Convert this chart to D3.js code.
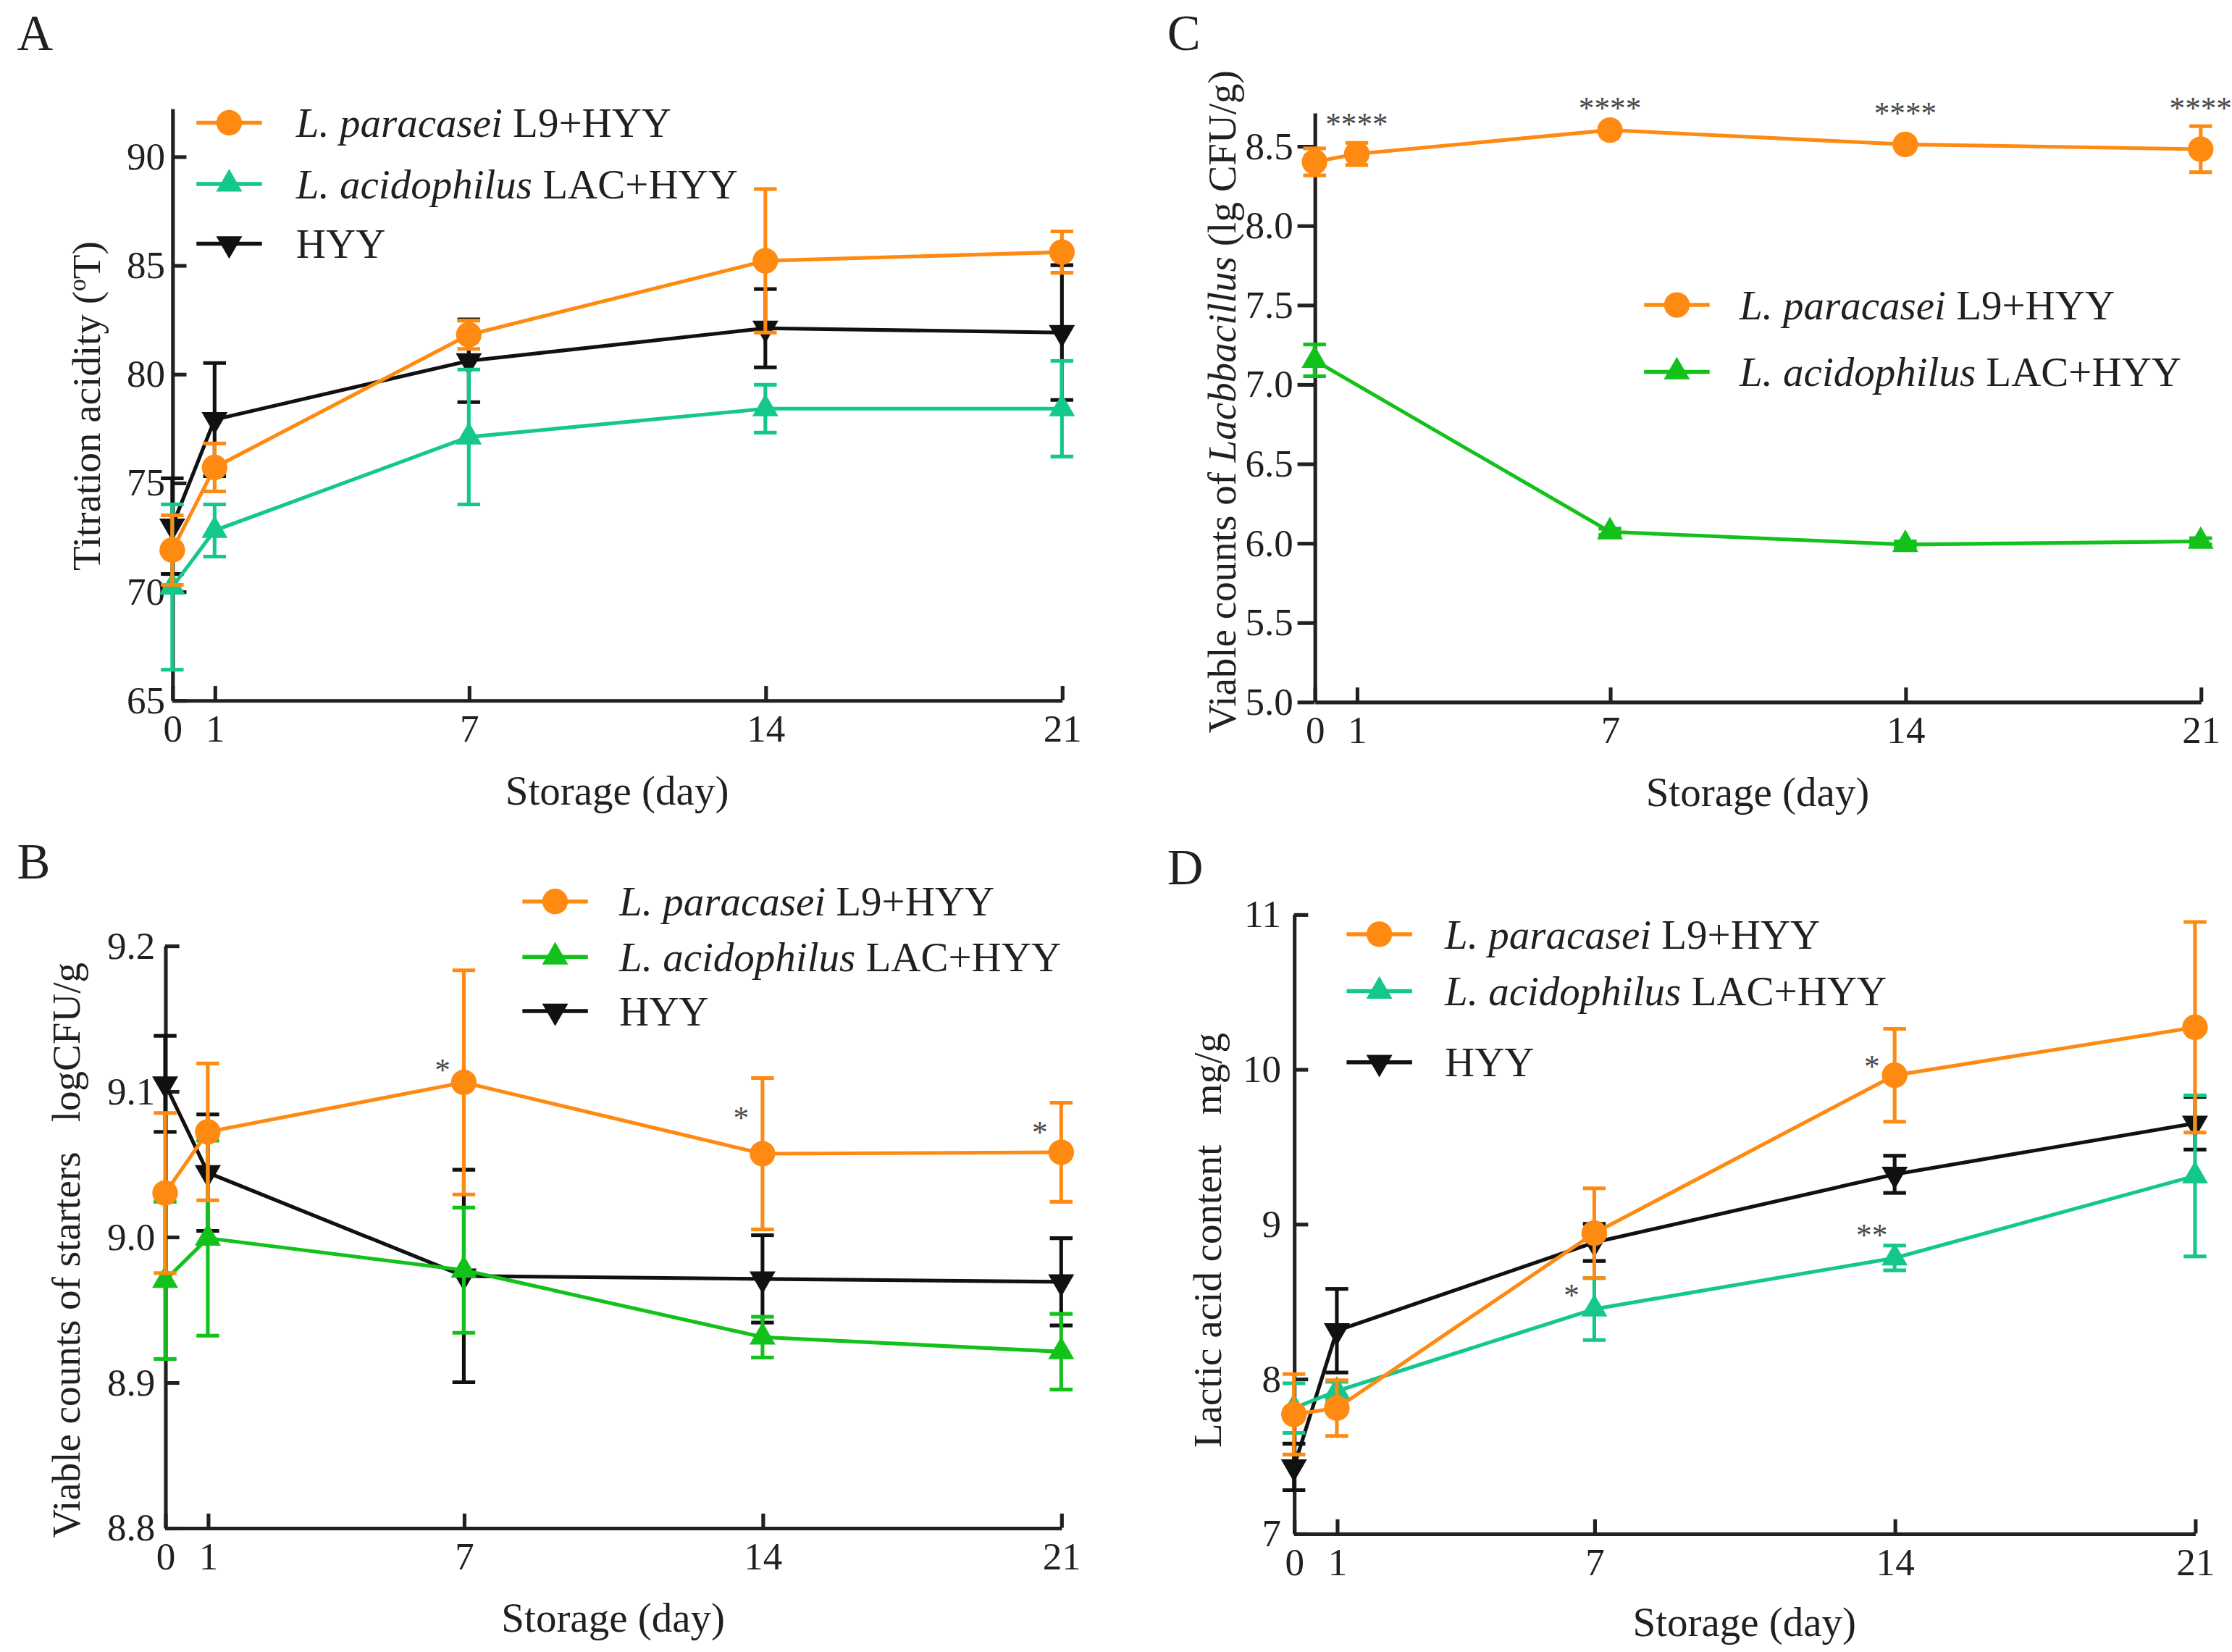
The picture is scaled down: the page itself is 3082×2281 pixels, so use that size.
<!DOCTYPE html>
<html>
<head>
<meta charset="utf-8">
<script src="https://cdn.jsdelivr.net/npm/d3@7"></script>
<style>
  body { margin: 0; background: #fff; }
  svg text { font-family: "Liberation Serif", "Times New Roman", serif; fill: #231f20; white-space: pre; }
</style>
</head>
<body>
<svg id="fig"></svg>
<script>
// storage days (x values for every panel)
var days = [0, 1, 7, 14, 21];
var dayTicks = [0, 1, 7, 14, 21];

// legend labels (italic species part + plain part)
var nameItalic = ["L. paracasei", "L. acidophilus", ""];
var namePlain = [" L9+HYY", " LAC+HYY", "HYY"];

// A: titration acidity (ºT)
var acidL9 = [71.9, 75.7, 81.8, 85.2, 85.6];
var acidL9Err = [1.6, 1.1, 0.65, 3.3, 0.95];
var acidLAC = [70.2, 72.8, 77.1, 78.4, 78.4];
var acidLACErr = [3.8, 1.2, 3.1, 1.1, 2.2];
var acidHYY = [73.0, 77.9, 80.6, 82.1, 81.9];
var acidHYYErr = [2.2, 2.6, 1.9, 1.8, 3.1];
var acidTicks = [65, 70, 75, 80, 85, 90];

// B: viable counts of starters (logCFU/g)
var starterL9 = [9.030, 9.072, 9.106, 9.057, 9.058];
var starterL9Err = [0.055, 0.047, 0.077, 0.052, 0.034];
var starterLAC = [8.970, 8.999, 8.977, 8.931, 8.921];
var starterLACErr = [0.054, 0.067, 0.043, 0.014, 0.026];
var starterHYY = [9.105, 9.044, 8.973, 8.971, 8.969];
var starterHYYErr = [0.033, 0.040, 0.073, 0.030, 0.030];
var starterTicks = [8.8, 8.9, 9.0, 9.1, 9.2];
var starterStarDays = [7, 14, 21];
var starterStarVals = [9.118, 9.085, 9.075];
var starterStarText = ["*", "*", "*"];

// C: viable counts of Lactobacillus (lg CFU/g)
var lactoL9 = [8.40, 8.45, 8.60, 8.51, 8.48];
var lactoL9Err = [0.085, 0.07, 0.02, 0.02, 0.145];
var lactoLAC = [7.15, null, 6.07, 5.99, 6.01];
var lactoLACErr = [0.10, null, 0.02, 0.02, 0.02];
var lactoTicks = [5.0, 5.5, 6.0, 6.5, 7.0, 7.5, 8.0, 8.5];
var lactoStarDays = [1, 7, 14, 21];
var lactoStarVals = [8.67, 8.77, 8.74, 8.77];
var lactoStarText = ["****", "****", "****", "****"];

// D: lactic acid content (mg/g)
var lacticL9 = [7.77, 7.81, 8.94, 9.96, 10.27];
var lacticL9Err = [0.26, 0.18, 0.29, 0.30, 0.68];
var lacticLAC = [7.81, 7.92, 8.45, 8.78, 9.31];
var lacticLACErr = [0.16, 0.06, 0.20, 0.08, 0.52];
var lacticHYY = [7.43, 8.31, 8.88, 9.32, 9.65];
var lacticHYYErr = [0.15, 0.27, 0.12, 0.12, 0.17];
var lacticTicks = [7, 8, 9, 10, 11];
var lacticStarDays = [14, 7, 14];
var lacticStarVals = [10.05, 8.57, 8.96];
var lacticStarText = ["*", "*", "**"];

var orange = "#ff8a12";
var teal = "#14c78a";
var green = "#12c21a";
var black = "#111111";
var ink = "#231f20";

var svg = d3.select("#fig")
    .attr("width", 3082)
    .attr("height", 2281)
    .attr("viewBox", "0 0 1568 1160");

function marker(g, kind, color, cx, cy) {
    if (kind === "circle") {
        g.append("circle").attr("cx", cx).attr("cy", cy).attr("r", 9).attr("fill", color);
    } else {
        g.append("path")
            .attr("d", d3.symbol(d3.symbolTriangle, 145)())
            .attr("transform", "translate(" + cx + "," + cy + ")" + (kind === "down" ? " rotate(180)" : ""))
            .attr("fill", color);
    }
}

function panel(p) {
    var g = svg.append("g");
    var x = d3.scaleLinear().domain([0, 21]).range(p.xr);
    var y = d3.scaleLinear().domain(p.yd).range(p.yr);

    var yAxis = d3.axisLeft(y)
        .tickValues(p.yTicks)
        .tickFormat(p.fmt)
        .tickSizeOuter(0)
        .tickSizeInner(p.yIn ? -10 : 12)
        .tickPadding(p.yPad);
    var ya = g.append("g").attr("transform", "translate(" + p.xr[0] + ",0)").call(yAxis);

    var xAxis = d3.axisBottom(x)
        .tickValues(dayTicks)
        .tickSizeOuter(0)
        .tickSizeInner(-10)
        .tickPadding(10);
    var xa = g.append("g").attr("transform", "translate(0," + p.yr[0] + ")").call(xAxis);

    [ya, xa].forEach(function(a){
        a.selectAll("path, line").attr("stroke", ink).attr("stroke-width", 2.6);
        a.selectAll("text").style("font-size", "27px");
    });

    // series: line, error bars, markers
    p.series.forEach(function(s){
        var pts = days.map(function(d, i){ return {d: d, v: s.v[i], e: s.e[i]}; })
                      .filter(function(o){ return o.v != null; });
        var line = d3.line().x(function(o){ return x(o.d); }).y(function(o){ return y(o.v); });
        g.append("path").datum(pts)
            .attr("d", line)
            .attr("fill", "none")
            .attr("stroke", s.c)
            .attr("stroke-width", 2.6);

        pts.forEach(function(o){
            if (!o.e) return;
            var cx = x(o.d), y1 = y(o.v + o.e), y0 = y(o.v - o.e);
            var eb = g.append("g").attr("stroke", s.c).attr("stroke-width", 2.6);
            eb.append("line").attr("x1", cx).attr("x2", cx).attr("y1", y1).attr("y2", y0);
            eb.append("line").attr("x1", cx - 8).attr("x2", cx + 8).attr("y1", y1).attr("y2", y1);
            eb.append("line").attr("x1", cx - 8).attr("x2", cx + 8).attr("y1", y0).attr("y2", y0);
        });
        pts.forEach(function(o){ marker(g, s.m, s.c, x(o.d), y(o.v)); });
    });

    // significance stars
    if (p.stars) {
        p.stars.days.forEach(function(d, i){
            g.append("text")
                .attr("x", x(d) + p.stars.dx)
                .attr("y", y(p.stars.vals[i]) + 11)
                .attr("text-anchor", "middle")
                .style("font-size", "22px")
                .style("fill", "#4a4a4a")
                .text(p.stars.text[i]);
        });
    }

    // legend
    p.legend.items.forEach(function(it, i){
        var ly = p.legend.ys[i];
        g.append("line")
            .attr("x1", p.legend.lx).attr("x2", p.legend.lx + 46)
            .attr("y1", ly).attr("y2", ly)
            .attr("stroke", it.c).attr("stroke-width", 2.8);
        marker(g, it.m, it.c, p.legend.lx + 23, ly);
        var t = g.append("text")
            .attr("x", p.legend.tx)
            .attr("y", ly + 10)
            .style("font-size", "29px");
        if (nameItalic[it.k]) t.append("tspan").style("font-style", "italic").text(nameItalic[it.k]);
        t.append("tspan").text(namePlain[it.k]);
    });

    // axis titles
    g.append("text")
        .attr("x", (p.xr[0] + p.xr[1]) / 2)
        .attr("y", p.xTitleY)
        .attr("text-anchor", "middle")
        .style("font-size", "29px")
        .text("Storage (day)");

    var yt = g.append("text")
        .attr("transform", "translate(" + p.yTitle[0] + "," + p.yTitle[1] + ") rotate(-90)")
        .attr("text-anchor", "middle")
        .style("font-size", "28px");
    p.yTitleParts.forEach(function(part){
        var ts = yt.append("tspan").text(part.t);
        if (part.i) ts.style("font-style", "italic");
        if (part.sup) ts.style("font-size", "17px").attr("dy", -10);
        if (part.down) ts.attr("dy", 10);
    });

    // panel letter
    g.append("text")
        .attr("x", p.letter[1])
        .attr("y", p.letter[2])
        .style("font-size", "35px")
        .text(p.letter[0]);
}

panel({
    xr: [121, 746], yd: [65, 92.2], yr: [491.6, 76],
    yTicks: acidTicks, fmt: d3.format("d"), yIn: true, yPad: 5,
    series: [
        {v: acidHYY, e: acidHYYErr, c: black, m: "down"},
        {v: acidLAC, e: acidLACErr, c: teal, m: "up"},
        {v: acidL9, e: acidL9Err, c: orange, m: "circle"}
    ],
    legend: {lx: 138, tx: 208, ys: [86, 129, 171],
        items: [{k: 0, c: orange, m: "circle"}, {k: 1, c: teal, m: "up"}, {k: 2, c: black, m: "down"}]},
    xTitleY: 565,
    yTitle: [70, 285],
    yTitleParts: [{t: "Titration acidity ("}, {t: "o", sup: true}, {t: "T)", down: true}],
    letter: ["A", 12, 35]
});

panel({
    xr: [116, 745.5], yd: [8.8, 9.2], yr: [1073, 664],
    yTicks: starterTicks, fmt: d3.format(".1f"), yIn: true, yPad: 7,
    series: [
        {v: starterHYY, e: starterHYYErr, c: black, m: "down"},
        {v: starterLAC, e: starterLACErr, c: green, m: "up"},
        {v: starterL9, e: starterL9Err, c: orange, m: "circle"}
    ],
    stars: {days: starterStarDays, vals: starterStarVals, text: starterStarText, dx: -15},
    legend: {lx: 367, tx: 435, ys: [633, 672, 710],
        items: [{k: 0, c: orange, m: "circle"}, {k: 1, c: green, m: "up"}, {k: 2, c: black, m: "down"}]},
    xTitleY: 1146,
    yTitle: [56, 878],
    yTitleParts: [{t: "Viable counts of starters   logCFU/g"}],
    letter: ["B", 12, 617]
});

panel({
    xr: [923.5, 1546], yd: [5, 8.71], yr: [492.7, 78.9],
    yTicks: lactoTicks, fmt: d3.format(".1f"), yIn: false, yPad: 3,
    series: [
        {v: lactoLAC, e: lactoLACErr, c: green, m: "up"},
        {v: lactoL9, e: lactoL9Err, c: orange, m: "circle"}
    ],
    stars: {days: lactoStarDays, vals: lactoStarVals, text: lactoStarText, dx: 0},
    legend: {lx: 1155, tx: 1222, ys: [214, 261],
        items: [{k: 0, c: orange, m: "circle"}, {k: 1, c: green, m: "up"}]},
    xTitleY: 566,
    yTitle: [868, 282],
    yTitleParts: [{t: "Viable counts of "}, {t: "Lacbbacillus", i: true}, {t: " (lg CFU/g)"}],
    letter: ["C", 820, 35]
});

panel({
    xr: [909, 1542], yd: [7, 11], yr: [1077, 642],
    yTicks: lacticTicks, fmt: d3.format("d"), yIn: true, yPad: 9,
    series: [
        {v: lacticHYY, e: lacticHYYErr, c: black, m: "down"},
        {v: lacticLAC, e: lacticLACErr, c: teal, m: "up"},
        {v: lacticL9, e: lacticL9Err, c: orange, m: "circle"}
    ],
    stars: {days: lacticStarDays, vals: lacticStarVals, text: lacticStarText, dx: -16},
    legend: {lx: 946, tx: 1015, ys: [656, 696, 746],
        items: [{k: 0, c: orange, m: "circle"}, {k: 1, c: teal, m: "up"}, {k: 2, c: black, m: "down"}]},
    xTitleY: 1149,
    yTitle: [858, 871],
    yTitleParts: [{t: "Lactic acid content   mg/g"}],
    letter: ["D", 820, 621]
});
</script>
</body>
</html>
